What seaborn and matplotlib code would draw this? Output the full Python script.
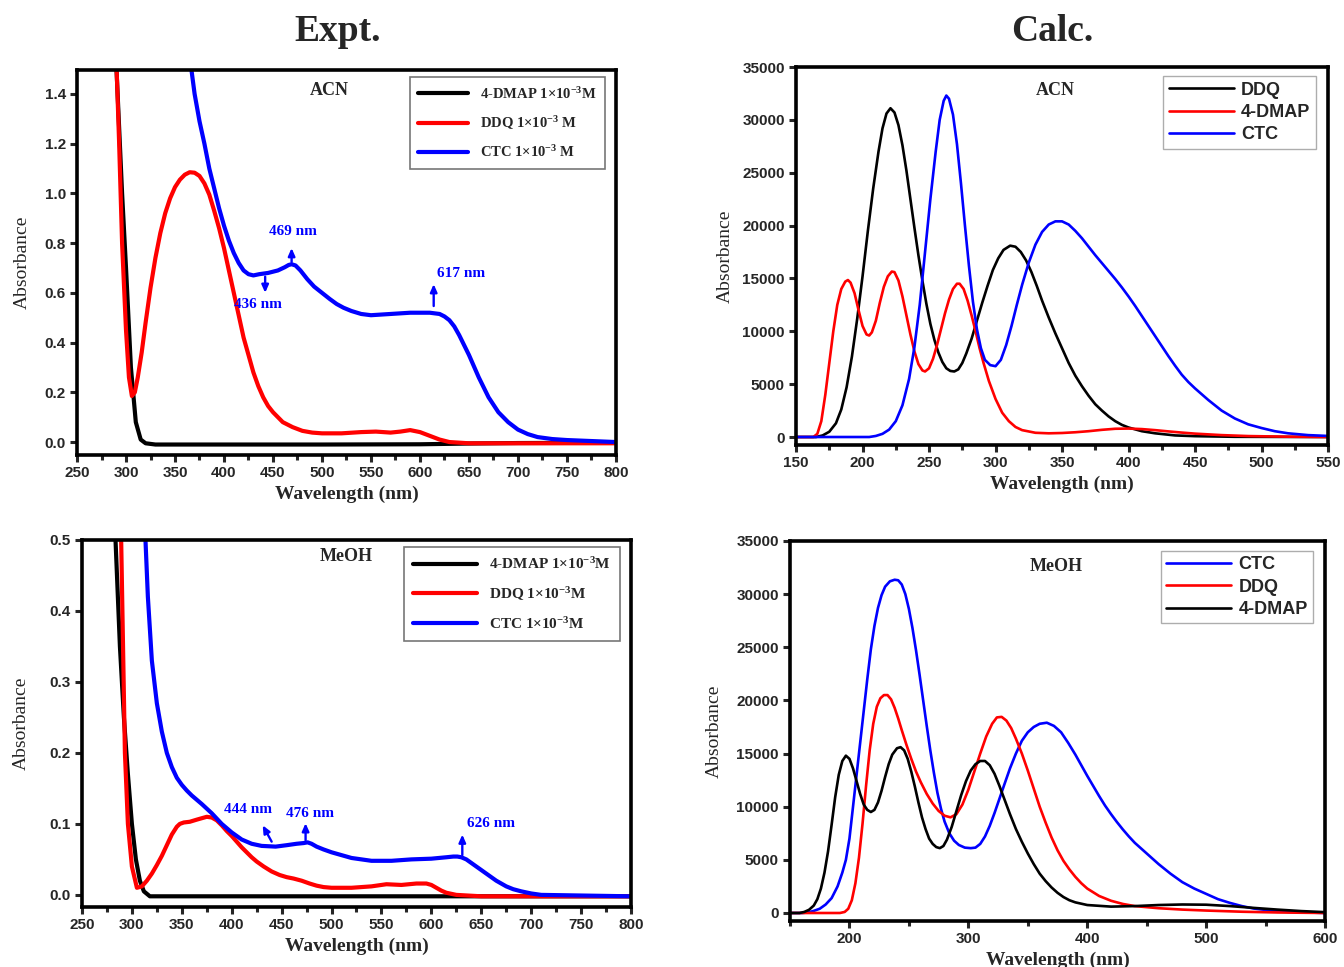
import numpy as np
import pandas as pd
import matplotlib
matplotlib.use("Agg")
import matplotlib.pyplot as plt
from matplotlib.ticker import MultipleLocator, FormatStrFormatter
import seaborn as sns

# ---------------- data ----------------
# Expt., ACN
acn_dmap_wl = [288, 292, 296, 300, 305, 310, 315, 320, 330, 400, 500, 600, 650, 700, 800]
acn_dmap_ab = [1.70, 1.35, 1.00, 0.70, 0.30, 0.08, 0.01, -0.005, -0.010, -0.010, -0.010, -0.009, -0.006, -0.004, -0.003]
acn_ddq_wl = [290, 293, 296, 300, 303, 306, 309, 312, 316, 320, 325, 330, 335, 340, 345, 350, 355, 360, 365, 370, 375,
              380, 385, 390, 395, 400, 405, 410, 415, 420, 425, 430, 435, 440, 445, 450, 460, 470, 480, 490, 500, 520,
              540, 555, 570, 580, 590, 600, 610, 620, 630, 650, 800]
acn_ddq_ab = [1.55, 1.20, 0.80, 0.45, 0.26, 0.185, 0.20, 0.26, 0.36, 0.48, 0.62, 0.74, 0.84, 0.92, 0.98, 1.025, 1.055,
              1.075, 1.085, 1.083, 1.07, 1.04, 0.995, 0.93, 0.86, 0.78, 0.69, 0.60, 0.51, 0.42, 0.35, 0.28, 0.225, 0.18,
              0.145, 0.12, 0.08, 0.06, 0.045, 0.038, 0.035, 0.035, 0.040, 0.042, 0.038, 0.042, 0.048, 0.040, 0.025,
              0.010, 0.0, -0.005, -0.005]
acn_ctc_wl = [365, 370, 375, 380, 385, 390, 395, 400, 405, 410, 415, 420, 425, 430, 436, 445, 455, 462, 466, 469, 473,
              478, 485, 492, 500, 508, 515, 522, 530, 540, 550, 570, 590, 610, 620, 625, 630, 635, 640, 645, 650, 655,
              660, 665, 670, 675, 680, 690, 700, 710, 720, 735, 750, 800]
acn_ctc_ab = [1.55, 1.40, 1.29, 1.20, 1.10, 1.02, 0.94, 0.87, 0.81, 0.76, 0.72, 0.69, 0.675, 0.67, 0.675, 0.68, 0.69,
              0.703, 0.712, 0.715, 0.71, 0.69, 0.655, 0.625, 0.60, 0.575, 0.555, 0.54, 0.527, 0.515, 0.51, 0.515, 0.52,
              0.52, 0.515, 0.505, 0.49, 0.465, 0.43, 0.39, 0.35, 0.305, 0.26, 0.22, 0.18, 0.15, 0.12, 0.08, 0.05, 0.032,
              0.02, 0.012, 0.008, 0.0]

# Expt., MeOH
meoh_dmap_wl = [283, 288, 292, 296, 300, 304, 308, 312, 318, 400, 800]
meoh_dmap_ab = [0.52, 0.35, 0.25, 0.17, 0.10, 0.05, 0.02, 0.005, -0.002, -0.002, -0.002]
meoh_ddq_wl = [289, 293, 296, 300, 305, 310, 315, 320, 325, 330, 335, 340, 345, 348, 352, 358, 365, 370, 375, 380, 385,
               390, 395, 400, 405, 410, 415, 420, 425, 432, 440, 448, 455, 462, 470, 478, 485, 492, 500, 520, 540, 555,
               570, 585, 595, 600, 605, 610, 615, 625, 650, 800]
meoh_ddq_ab = [0.52, 0.20, 0.10, 0.04, 0.010, 0.012, 0.020, 0.030, 0.042, 0.055, 0.070, 0.085, 0.096, 0.100, 0.102,
               0.103, 0.106, 0.108, 0.110, 0.109, 0.105, 0.098, 0.090, 0.083, 0.075, 0.067, 0.060, 0.053, 0.047, 0.040,
               0.033, 0.028, 0.025, 0.023, 0.020, 0.016, 0.013, 0.011, 0.010, 0.010, 0.012, 0.015, 0.014, 0.016, 0.016,
               0.014, 0.010, 0.006, 0.003, 0.0, -0.002, -0.002]
meoh_ctc_wl = [313, 316, 320, 325, 330, 335, 340, 345, 350, 355, 360, 370, 380, 390, 400, 410, 420, 430, 444, 455, 465,
               472, 476, 480, 485, 492, 500, 510, 520, 530, 540, 560, 580, 600, 615, 622, 626, 630, 635, 640, 645, 650,
               655, 660, 665, 670, 675, 682, 690, 700, 710, 800]
meoh_ctc_ab = [0.52, 0.42, 0.33, 0.27, 0.23, 0.20, 0.18, 0.165, 0.155, 0.147, 0.14, 0.128, 0.115, 0.10, 0.088, 0.078,
               0.072, 0.069, 0.068, 0.070, 0.072, 0.073, 0.074, 0.072, 0.068, 0.064, 0.060, 0.056, 0.052, 0.050, 0.048,
               0.048, 0.050, 0.051, 0.053, 0.054, 0.054, 0.053, 0.050, 0.045, 0.040, 0.035, 0.030, 0.025, 0.020, 0.016,
               0.012, 0.008, 0.005, 0.002, 0.0, -0.002]

# Calc., ACN
c_acn_ddq_wl = [150, 165, 170, 175, 180, 184, 188, 192, 196, 200, 204, 208, 212, 215, 218, 221, 224, 227, 230, 233, 236,
                239, 242, 245, 248, 251, 254, 257, 260, 263, 266, 269, 272, 275, 278, 282, 286, 290, 294, 298, 302, 306,
                311, 315, 319, 323, 327, 331, 335, 340, 345, 350, 355, 360, 365, 370, 375, 380, 385, 390, 395, 400, 410,
                420, 435, 450, 480, 550]
c_acn_ddq_ab = [0, 0, 150, 500, 1300, 2600, 4700, 7600, 11200, 15200, 19500, 23500, 27000, 29200, 30600, 31100, 30700,
                29500, 27600, 25200, 22500, 19800, 17200, 14800, 12600, 10700, 9200, 8000, 7100, 6500, 6250, 6200, 6400,
                7000, 7900, 9300, 11000, 12700, 14300, 15800, 16900, 17700, 18100, 18000, 17500, 16700, 15600, 14300,
                12900, 11300, 9800, 8400, 7000, 5800, 4800, 3900, 3100, 2500, 1950, 1500, 1150, 900, 550, 350, 150, 80,
                20, 0]
c_acn_dmap_wl = [150, 163, 166, 169, 172, 175, 178, 181, 184, 187, 189, 191, 194, 197, 200, 203, 205, 207, 210, 213, 216,
                 219, 222, 224, 227, 230, 233, 236, 239, 242, 245, 247, 250, 253, 256, 259, 262, 265, 268, 271, 273, 276,
                 279, 282, 285, 288, 291, 295, 300, 305, 310, 315, 320, 330, 340, 350, 360, 370, 380, 390, 400, 410, 420,
                 430, 440, 450, 470, 490, 520, 550]
c_acn_dmap_ab = [0, 0, 300, 1500, 4000, 7000, 10000, 12500, 14000, 14700, 14850, 14600, 13600, 12000, 10500, 9700, 9600,
                 9900, 11000, 12700, 14200, 15200, 15650, 15600, 14800, 13300, 11500, 9700, 8100, 6900, 6300, 6200, 6500,
                 7400, 8700, 10200, 11700, 13000, 14000, 14500, 14500, 14000, 12900, 11500, 10000, 8400, 7000, 5300, 3600,
                 2300, 1500, 950, 650, 400, 350, 380, 450, 550, 680, 780, 800, 750, 650, 530, 420, 320, 180, 90, 30, 0]
c_acn_ctc_wl = [150, 205, 210, 215, 220, 225, 230, 235, 239, 243, 247, 251, 255, 258, 261, 263, 265, 268, 271, 274, 277,
                280, 283, 286, 289, 292, 296, 300, 304, 308, 312, 316, 320, 325, 330, 335, 340, 345, 350, 355, 360, 365,
                370, 375, 380, 385, 390, 395, 400, 405, 410, 415, 420, 425, 430, 435, 440, 445, 450, 460, 470, 480, 490,
                500, 510, 520, 535, 550]
c_acn_ctc_ab = [0, 0, 100, 300, 700, 1500, 3000, 5500, 8500, 12500, 17500, 22500, 27000, 30000, 31800, 32300, 32000,
                30500, 27700, 24000, 20000, 16200, 12800, 10200, 8400, 7300, 6800, 6700, 7300, 8700, 10500, 12500, 14400,
                16500, 18200, 19400, 20100, 20400, 20400, 20100, 19500, 18800, 18000, 17200, 16450, 15700, 14950, 14150,
                13300, 12400, 11450, 10500, 9550, 8600, 7650, 6750, 5900, 5200, 4600, 3500, 2500, 1750, 1200, 850, 550,
                350, 180, 100]

# Calc., MeOH
c_meoh_ctc_wl = [150, 160, 165, 170, 175, 180, 185, 190, 194, 197, 200, 203, 206, 209, 212, 215, 218, 221, 224, 227, 230,
                 234, 238, 241, 244, 247, 250, 253, 256, 259, 262, 265, 268, 271, 274, 277, 280, 284, 288, 292, 297, 302,
                 306, 310, 314, 318, 322, 326, 330, 335, 340, 345, 350, 355, 360, 366, 372, 378, 384, 390, 396, 400, 405,
                 410, 415, 420, 425, 430, 435, 440, 450, 460, 470, 480, 490, 500, 510, 520, 530, 540, 555, 570, 600]
c_meoh_ctc_ab = [0, 0, 50, 200, 400, 800, 1400, 2500, 3800, 5000, 7000, 10000, 13000, 16000, 19000, 22000, 24800, 27000,
                 28700, 29900, 30700, 31200, 31350, 31300, 30900, 30000, 28600, 26800, 24700, 22400, 20000, 17600, 15300,
                 13200, 11300, 9800, 8600, 7500, 6800, 6400, 6150, 6100, 6150, 6500, 7200, 8200, 9400, 10700, 12000,
                 13600, 15000, 16200, 17000, 17500, 17800, 17900, 17600, 17000, 16000, 14900, 13700, 12900, 11950, 11000,
                 10100, 9300, 8550, 7850, 7200, 6600, 5600, 4600, 3700, 2900, 2300, 1800, 1300, 950, 650, 420, 220, 100, 0]
c_meoh_ddq_wl = [150, 192, 196, 199, 202, 205, 208, 211, 214, 217, 220, 223, 226, 229, 232, 235, 238, 241, 244, 248, 252,
                 256, 260, 265, 270, 275, 280, 285, 290, 295, 300, 305, 310, 315, 320, 324, 328, 332, 336, 340, 345, 350,
                 355, 360, 365, 370, 375, 380, 385, 390, 395, 400, 410, 420, 430, 440, 460, 480, 500, 530, 560, 600]
c_meoh_ddq_ab = [0, 0, 100, 400, 1200, 2800, 5200, 8400, 12000, 15300, 17800, 19400, 20200, 20500, 20500, 20100, 19300,
                 18300, 17200, 15800, 14500, 13300, 12300, 11200, 10300, 9600, 9150, 9000, 9300, 10200, 11600, 13300,
                 15000, 16600, 17800, 18400, 18450, 18100, 17400, 16400, 15000, 13400, 11700, 10000, 8500, 7100, 5900,
                 4900, 4100, 3400, 2800, 2300, 1600, 1150, 850, 650, 450, 320, 230, 120, 50, 0]
c_meoh_dmap_wl = [150, 158, 162, 166, 170, 173, 176, 179, 182, 185, 188, 191, 194, 197, 200, 203, 206, 209, 212, 215, 218,
                  221, 224, 227, 230, 233, 236, 240, 243, 246, 249, 252, 255, 258, 261, 264, 267, 270, 273, 276, 279, 282,
                  286, 290, 294, 298, 302, 306, 310, 314, 318, 322, 326, 330, 335, 340, 345, 350, 355, 360, 365, 370, 375,
                  380, 385, 390, 400, 420, 440, 460, 480, 500, 520, 540, 560, 580, 600]
c_meoh_dmap_ab = [0, 0, 100, 300, 700, 1300, 2300, 3800, 5800, 8300, 10900, 13000, 14300, 14800, 14500, 13600, 12400,
                  11200, 10200, 9700, 9500, 9700, 10400, 11500, 12800, 14000, 14900, 15500, 15600, 15300, 14500, 13300,
                  11900, 10400, 9000, 7900, 7000, 6500, 6200, 6100, 6300, 6900, 8100, 9600, 11100, 12400, 13400, 14000,
                  14300, 14300, 13900, 13100, 12000, 10800, 9300, 7900, 6700, 5600, 4600, 3700, 3000, 2400, 1900, 1500,
                  1200, 1000, 750, 600, 650, 750, 800, 780, 650, 480, 320, 180, 80]

# ---------------- styling ----------------
sns.set_style("ticks")
plt.rcParams["font.family"] = ["Liberation Sans", "DejaVu Sans"]
plt.rcParams["font.weight"] = "bold"
plt.rcParams["mathtext.fontset"] = "custom"
plt.rcParams["mathtext.rm"] = "Liberation Serif:bold"
plt.rcParams["mathtext.bf"] = "Liberation Serif:bold"
plt.rcParams["mathtext.it"] = "Liberation Serif:bold:italic"

SERIF = "Liberation Serif"
BLUE = "#0000ff"
RED = "#ff0000"
BLACK = "#000000"

fig = plt.figure(figsize=(13.44, 9.67), dpi=100)
ax_tl = fig.add_axes([0.0573, 0.5295, 0.4010, 0.3981])
ax_tr = fig.add_axes([0.5923, 0.5398, 0.3958, 0.3909])
ax_bl = fig.add_axes([0.0610, 0.0621, 0.4085, 0.3795])
ax_br = fig.add_axes([0.5878, 0.0476, 0.3981, 0.3930])


def draw(ax, wl, ab, color, label, lw):
    df = pd.DataFrame({"wl": wl, "ab": ab})
    sns.lineplot(data=df, x="wl", y="ab", color=color, label=label, lw=lw, ax=ax,
                 errorbar=None, sort=False)
    for ln in ax.get_lines():
        ln.set_solid_joinstyle("round")
        ln.set_solid_capstyle("round")


def style_axis(ax, xlim, ylim, xmaj, xmin, ymaj, ylabelpad):
    ax.set_xlim(*xlim)
    ax.set_ylim(*ylim)
    ax.xaxis.set_major_locator(MultipleLocator(xmaj))
    ax.xaxis.set_minor_locator(MultipleLocator(xmin))
    ax.yaxis.set_major_locator(MultipleLocator(ymaj))
    for sp in ax.spines.values():
        sp.set_visible(True)
        sp.set_linewidth(2.6)
        sp.set_color("black")
    ax.tick_params(which="major", direction="out", length=5, width=2.2, labelsize=11, pad=3)
    ax.tick_params(which="minor", direction="out", length=3.5, width=2.2)
    ax.tick_params(top=False, right=False, which="both")
    ax.set_xlabel("Wavelength (nm)", fontfamily=SERIF, fontweight="bold", fontsize=14, labelpad=4)
    ax.set_ylabel("Absorbance", fontfamily=SERIF, fontweight="normal", fontsize=14, labelpad=ylabelpad)


lw_e = 3.0
lw_c = 1.9
ann_kw = dict(fontfamily=SERIF, fontweight="bold", fontsize=11, color=BLUE, ha="center", va="center")
arr_kw = dict(arrowstyle="-|>,head_length=0.45,head_width=0.2", color=BLUE, lw=1.7, shrinkA=0, shrinkB=0)

# ---- top-left: Expt. ACN ----
draw(ax_tl, acn_dmap_wl, acn_dmap_ab, BLACK, "4-DMAP 1×10$^{-3}$M", lw_e)
draw(ax_tl, acn_ddq_wl, acn_ddq_ab, RED, "DDQ 1×10$^{-3}$ M", lw_e)
draw(ax_tl, acn_ctc_wl, acn_ctc_ab, BLUE, "CTC 1×10$^{-3}$ M", lw_e)
style_axis(ax_tl, (250, 800), (-0.052, 1.496), 50, 25, 0.2, 10)
ax_tl.yaxis.set_major_formatter(FormatStrFormatter("%.1f"))
ax_tl.legend(loc="upper right", bbox_to_anchor=(0.98, 0.982), borderaxespad=0, frameon=True, fancybox=False,
             edgecolor="#555555", handlelength=3.4, borderpad=0.6, labelspacing=0.85,
             prop={"family": SERIF, "weight": "bold", "size": 10.5}).get_frame().set_linewidth(1.2)
ax_tl.text(0.469, 0.948, "ACN", transform=ax_tl.transAxes, ha="center", va="center",
           fontfamily=SERIF, fontweight="bold", fontsize=13)
ax_tl.text(470, 0.845, "469 nm", **ann_kw)
ax_tl.annotate("", xy=(469, 0.78), xytext=(469, 0.724), arrowprops=arr_kw)
ax_tl.text(435, 0.555, "436 nm", **ann_kw)
ax_tl.annotate("", xy=(442, 0.60), xytext=(442, 0.665), arrowprops=arr_kw)
ax_tl.text(642, 0.676, "617 nm", **ann_kw)
ax_tl.annotate("", xy=(614, 0.635), xytext=(614, 0.547), arrowprops=arr_kw)

# ---- top-right: Calc. ACN ----
draw(ax_tr, c_acn_ddq_wl, c_acn_ddq_ab, BLACK, "DDQ", lw_c)
draw(ax_tr, c_acn_dmap_wl, c_acn_dmap_ab, RED, "4-DMAP", lw_c)
draw(ax_tr, c_acn_ctc_wl, c_acn_ctc_ab, BLUE, "CTC", lw_c)
style_axis(ax_tr, (150, 550), (-757, 35000), 50, 25, 5000, 6)
ax_tr.legend(loc="upper right", bbox_to_anchor=(0.977, 0.976), borderaxespad=0, frameon=True, fancybox=False,
             edgecolor="#999999", handlelength=3.6, borderpad=0.3, labelspacing=0.3, handletextpad=0.4,
             prop={"family": "Liberation Sans", "weight": "bold", "size": 13}).get_frame().set_linewidth(1.0)
ax_tr.text(0.487, 0.939, "ACN", transform=ax_tr.transAxes, ha="center", va="center",
           fontfamily=SERIF, fontweight="bold", fontsize=13)

# ---- bottom-left: Expt. MeOH ----
draw(ax_bl, meoh_dmap_wl, meoh_dmap_ab, BLACK, "4-DMAP 1×10$^{-3}$M", lw_e)
draw(ax_bl, meoh_ddq_wl, meoh_ddq_ab, RED, "DDQ 1×10$^{-3}$M", lw_e)
draw(ax_bl, meoh_ctc_wl, meoh_ctc_ab, BLUE, "CTC 1×10$^{-3}$M", lw_e)
style_axis(ax_bl, (250, 800), (-0.017, 0.5), 50, 25, 0.1, 14)
ax_bl.yaxis.set_major_formatter(FormatStrFormatter("%.1f"))
ax_bl.legend(loc="upper right", bbox_to_anchor=(0.98, 0.981), borderaxespad=0, frameon=True, fancybox=False,
             edgecolor="#555555", handlelength=4.2, borderpad=0.6, labelspacing=0.85,
             prop={"family": SERIF, "weight": "bold", "size": 11}).get_frame().set_linewidth(1.2)
ax_bl.text(0.481, 0.954, "MeOH", transform=ax_bl.transAxes, ha="center", va="center",
           fontfamily=SERIF, fontweight="bold", fontsize=13)
ax_bl.text(416, 0.12, "444 nm", **ann_kw)
ax_bl.annotate("", xy=(431, 0.098), xytext=(440, 0.075), arrowprops=arr_kw)
ax_bl.text(478, 0.114, "476 nm", **ann_kw)
ax_bl.annotate("", xy=(474, 0.101), xytext=(474, 0.077), arrowprops=arr_kw)
ax_bl.text(660, 0.10, "626 nm", **ann_kw)
ax_bl.annotate("", xy=(631, 0.085), xytext=(631, 0.056), arrowprops=arr_kw)

# ---- bottom-right: Calc. MeOH ----
draw(ax_br, c_meoh_ctc_wl, c_meoh_ctc_ab, BLUE, "CTC", lw_c)
draw(ax_br, c_meoh_ddq_wl, c_meoh_ddq_ab, RED, "DDQ", lw_c)
draw(ax_br, c_meoh_dmap_wl, c_meoh_dmap_ab, BLACK, "4-DMAP", lw_c)
style_axis(ax_br, (150, 600), (-750, 35000), 100, 50, 5000, 10)
ax_br.legend(loc="upper right", bbox_to_anchor=(0.978, 0.974), borderaxespad=0, frameon=True, fancybox=False,
             edgecolor="#999999", handlelength=3.6, borderpad=0.3, labelspacing=0.3, handletextpad=0.4,
             prop={"family": "Liberation Sans", "weight": "bold", "size": 13}).get_frame().set_linewidth(1.0)
ax_br.text(0.497, 0.934, "MeOH", transform=ax_br.transAxes, ha="center", va="center",
           fontfamily=SERIF, fontweight="bold", fontsize=13)

for ax in (ax_tl, ax_tr, ax_bl, ax_br):
    for lab in ax.get_xticklabels() + ax.get_yticklabels():
        lab.set_fontweight("bold")
        lab.set_fontfamily("Liberation Sans")

fig.text(0.251, 0.967, "Expt.", ha="center", va="center", fontfamily=SERIF, fontweight="bold", fontsize=27)
fig.text(0.783, 0.967, "Calc.", ha="center", va="center", fontfamily=SERIF, fontweight="bold", fontsize=27)

fig.savefig("out.png", dpi=100, facecolor="white")
